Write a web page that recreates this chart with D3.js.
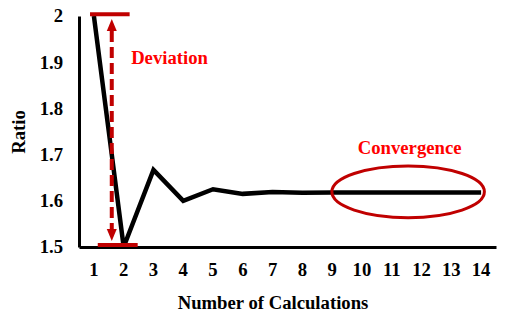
<!DOCTYPE html>
<html><head><meta charset="utf-8">
<script src="https://cdn.jsdelivr.net/npm/d3@7"></script>
<style>
html,body{margin:0;padding:0;background:#fff;}
svg{display:block;}
text{font-family:"Liberation Serif","Times New Roman",serif;font-weight:bold;}
</style></head>
<body>
<svg id="chart" width="511" height="324"></svg>
<script>
// Data
const categories = [1,2,3,4,5,6,7,8,9,10,11,12,13,14];
const ratios = [2, 1.5, 1.667, 1.6, 1.625, 1.615, 1.619, 1.6176, 1.6182, 1.618, 1.618, 1.618, 1.618, 1.618];
const yTicks = [1.5, 1.6, 1.7, 1.8, 1.9, 2];
const xTitle = "Number of Calculations";
const yTitle = "Ratio";
// Annotations (in category / value units)
const deviationArrow = {x: 1.6, from: 1.5, to: 2};
const deviationCaps = [{x0: 0.87, x1: 2.2, v: 2.004}, {x0: 1.13, x1: 2.47, v: 1.5045}];
const deviationLabel = {text: "Deviation", x: 2.25, v: 1.897};
const convergence = {cx: 11.55, cv: 1.6195, rxCat: 2.56, rv: 0.056};
const convergenceLabel = {text: "Convergence", x: 11.6, v: 1.7015};

const svg = d3.select("#chart");
const mLeft = 79, mRight = 496, mTop = 16, mBottom = 247;
const dark = "#c00000", bright = "#ff0000";

const xb = d3.scaleBand().domain(categories).range([mLeft, mRight]);
const xc = d => xb(d) + xb.bandwidth() / 2;
// continuous category position for annotations
const xl = d3.scaleLinear().domain([1, 14]).range([xc(1), xc(14)]);
const y = d3.scaleLinear().domain([1.5, 2]).range([mBottom, mTop]);

// Axes
const yAxis = d3.axisLeft(y).tickValues(yTicks).tickSize(0).tickPadding(16).tickFormat(d3.format("~g"));
const gy = svg.append("g").attr("transform", `translate(${mLeft},0)`).call(yAxis);
gy.select(".domain").attr("stroke", "#000").attr("stroke-width", 3);
gy.selectAll("text").attr("font-size", "18.7px").attr("fill", "#000")
  .attr("font-family", '"Liberation Serif", serif').attr("font-weight", "bold");

const xAxis = d3.axisBottom(xb).tickSize(0).tickPadding(16);
const gx = svg.append("g").attr("transform", `translate(0,${mBottom})`).call(xAxis);
gx.select(".domain").attr("stroke", "#000").attr("stroke-width", 3);
gx.selectAll("text").attr("font-size", "18.7px").attr("fill", "#000")
  .attr("font-family", '"Liberation Serif", serif').attr("font-weight", "bold");

// Titles
svg.append("text").attr("x", 273).attr("y", 309).attr("text-anchor", "middle")
  .attr("font-size", "18.7px").attr("fill", "#000").text(xTitle);
svg.append("text").attr("transform", "translate(25,132) rotate(-90)").attr("text-anchor", "middle")
  .attr("font-size", "18.7px").attr("fill", "#000").text(yTitle);

// Data line
const line = d3.line().x((d, i) => xc(categories[i])).y(d => y(d));
svg.append("path").datum(ratios).attr("d", line).attr("fill", "none")
  .attr("stroke", "#000").attr("stroke-width", 4.5).attr("stroke-linejoin", "miter");

// Deviation annotation
deviationCaps.forEach(c => {
  svg.append("line").attr("x1", xl(c.x0)).attr("x2", xl(c.x1)).attr("y1", y(c.v)).attr("y2", y(c.v))
    .attr("stroke", dark).attr("stroke-width", 4);
});
const ax = xl(deviationArrow.x);
const yTopTip = y(deviationArrow.to) + 3, yBotTip = y(deviationArrow.from) - 6;
const headH = 12, headW = 10;
svg.append("line").attr("x1", ax).attr("x2", ax).attr("y1", yTopTip + headH).attr("y2", yBotTip - headH)
  .attr("stroke", dark).attr("stroke-width", 4).attr("stroke-dasharray", "11,5");
svg.append("path").attr("d", `M${ax},${yTopTip}L${ax - headW / 2},${yTopTip + headH}L${ax + headW / 2},${yTopTip + headH}Z`).attr("fill", dark);
svg.append("path").attr("d", `M${ax},${yBotTip}L${ax - headW / 2},${yBotTip - headH}L${ax + headW / 2},${yBotTip - headH}Z`).attr("fill", dark);
svg.append("text").attr("x", xl(deviationLabel.x)).attr("y", y(deviationLabel.v))
  .attr("font-size", "18.7px").attr("fill", bright).text(deviationLabel.text);

// Convergence annotation
const step = xl(2) - xl(1);
svg.append("ellipse").attr("cx", xl(convergence.cx)).attr("cy", y(convergence.cv))
  .attr("rx", convergence.rxCat * step).attr("ry", y(1.5) - y(1.5 + convergence.rv))
  .attr("fill", "none").attr("stroke", dark).attr("stroke-width", 3);
svg.append("text").attr("x", xl(convergenceLabel.x)).attr("y", y(convergenceLabel.v)).attr("text-anchor", "middle")
  .attr("font-size", "18.7px").attr("fill", bright).text(convergenceLabel.text);
</script>
</body></html>
